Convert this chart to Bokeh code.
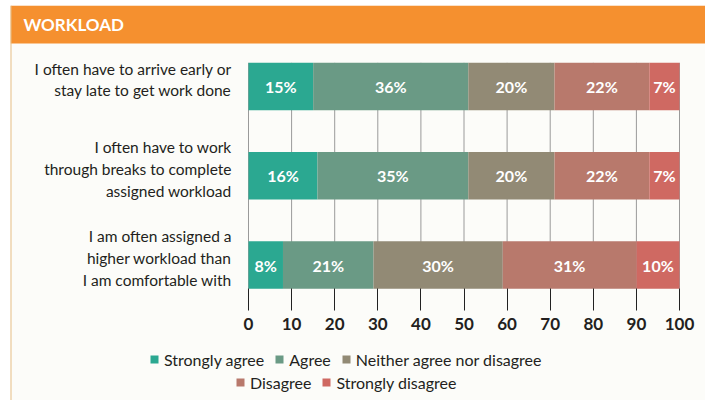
from bokeh.plotting import figure
from bokeh.models import (ColumnDataSource, Legend, LegendItem, Label, FixedTicker, Range1d,
                          BoxAnnotation, Span)
from bokeh.embed import file_html
from bokeh.resources import INLINE
from bokeh.core.properties import value

# ---------------- data ----------------
questions = [
    "I often have to arrive early or\nstay late to get work done",
    "I often have to work\nthrough breaks to complete\nassigned workload",
    "I am often assigned a\nhigher workload than\nI am comfortable with",
]
responses = ["Strongly agree", "Agree", "Neither agree nor disagree", "Disagree", "Strongly disagree"]
strongly_agree = [15, 16, 8]
agree = [36, 35, 21]
neither = [20, 20, 30]
disagree = [22, 22, 31]
strongly_disagree = [7, 7, 10]
colors = ["#2ba891", "#6a9a85", "#928a75", "#b8796c", "#cf6962"]
x_ticks = [0, 10, 20, 30, 40, 50, 60, 70, 80, 90, 100]
title_text = "WORKLOAD"

FONT = "Lato"
TXT = "#231f20"
BG = "#fcfcf9"
ORANGE = "#f5902f"

series = [strongly_agree, agree, neither, disagree, strongly_disagree]
n = len(questions)
ypos = [n - 1 - i for i in range(n)]  # first question on top

data = {"y": ypos, "q": questions}
for name, vals in zip(responses, series):
    data[name] = vals
src = ColumnDataSource(data)

# ---------------- geometry (pixels) ----------------
W, H = 695, 395            # canvas = frame
PX_PER_UNIT = 4.31         # px per percentage point
X0_PX = 238                # pixel position of 0 inside the canvas
ROW_PX = 89.25             # px per row
ROW0_PX = 259.5            # px from top of canvas to center of the bottom row
BAR_H = 0.53
HEADER_PX = 38

x_start = -X0_PX / PX_PER_UNIT
x_end = x_start + W / PX_PER_UNIT
y_top = ROW0_PX / ROW_PX
y_bot = y_top - H / ROW_PX

p = figure(width=W, height=H, output_backend="svg", toolbar_location=None,
           x_range=Range1d(x_start, x_end), y_range=Range1d(y_bot, y_top),
           min_border=0, background_fill_color=BG, border_fill_color=BG,
           outline_line_color=None, margin=(5, 4, 5, 10))
p.yaxis.visible = False
p.grid.visible = False

# header band
p.add_layout(BoxAnnotation(bottom=y_top - HEADER_PX / ROW_PX, fill_color=ORANGE, fill_alpha=1,
                           line_color=None, level="underlay"))
p.add_layout(Label(x=13, y=H - 19, x_units="screen", y_units="screen", text=title_text,
                   text_font=FONT, text_font_style="bold", text_font_size="17px",
                   text_color="white", text_baseline="middle"))
# panel left border
p.add_layout(Span(location=x_start, dimension="height", line_color="#e6bd85", line_width=2))

# grid lines between rows (only across the bar area)
g_top = max(ypos) + BAR_H / 2
g_bot = min(ypos) - BAR_H / 2
p.segment(x0=x_ticks, x1=x_ticks, y0=[g_bot] * len(x_ticks), y1=[g_top] * len(x_ticks),
          line_color="#9a9a9a", line_width=1)

renderers = p.hbar_stack(responses, y="y", height=BAR_H, color=colors, source=src, line_color=None)

# percentage labels
for i in range(n):
    left = 0
    for vals in series:
        v = vals[i]
        p.add_layout(Label(x=left + v / 2, y=ypos[i], text=f"{v}%", text_align="center",
                           text_baseline="middle", text_color="white",
                           text_font=FONT, text_font_style="bold", text_font_size="16px"))
        left += v

# category labels
p.text(x=-17 / PX_PER_UNIT, y="y", text="q", source=src, text_align="right",
       text_baseline="middle", text_font=value(FONT), text_font_size="15.5px",
       text_color=TXT, text_line_height=1.22, y_offset=-7)

# x axis fixed at the bottom of the bars
xa = p.xaxis[0]
xa.fixed_location = g_bot
xa.ticker = FixedTicker(ticks=x_ticks)
xa.axis_line_color = None
xa.major_tick_in = 0
xa.major_tick_out = 22
xa.major_tick_line_color = "#222222"
xa.minor_tick_line_color = None
xa.major_label_text_font = FONT
xa.major_label_text_font_style = "bold"
xa.major_label_text_font_size = "17px"
xa.major_label_text_color = TXT
xa.major_label_standoff = 7

# legends
def make_legend(idx, loc):
    return Legend(items=[LegendItem(label=responses[k], renderers=[renderers[k]]) for k in idx],
                  orientation="horizontal", location=loc, padding=0, margin=0, spacing=10,
                  glyph_width=10, glyph_height=10, label_standoff=5,
                  label_text_font=FONT, label_text_font_size="16px", label_text_color=TXT,
                  background_fill_alpha=0, border_line_color=None, label_height=22)

p.add_layout(make_legend([0, 1, 2], (139, 30)))
p.add_layout(make_legend([3, 4], (225, 7)))

open("out.html", "w").write(file_html(p, INLINE))
